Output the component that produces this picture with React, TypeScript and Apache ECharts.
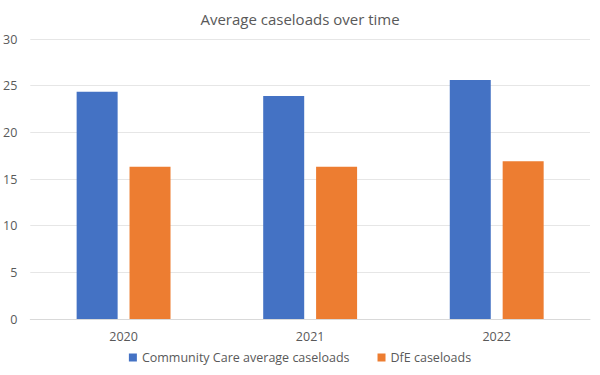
import React, { useEffect, useRef } from "react";
import * as echarts from "echarts";

const categories = ["2020", "2021", "2022"];
const communityCare = [24.35, 23.9, 25.6];
const dfe = [16.3, 16.3, 16.9];
const seriesNames = ["Community Care average caseloads", "DfE caseloads"];

export default function App() {
  const ref = useRef<HTMLDivElement>(null);
  useEffect(() => {
    const chart = echarts.init(ref.current!, null, { renderer: "svg" });
    const font = "'Open Sans', 'Liberation Sans', sans-serif";
    chart.setOption({
      animation: false,
      title: {
        text: "Average caseloads over time",
        left: "center",
        top: 6,
        textStyle: { fontFamily: font, fontSize: 15, fontWeight: "normal", color: "#595959" },
      },
      legend: {
        bottom: 6,
        left: "center",
        itemWidth: 8,
        itemHeight: 8,
        itemGap: 28,
        icon: "rect",
        textStyle: { fontFamily: font, fontSize: 12.5, color: "#595959" },
        data: seriesNames,
      },
      grid: { left: 30, right: 10, top: 39, bottom: 56 },
      xAxis: {
        type: "category",
        data: categories,
        axisLine: { lineStyle: { color: "#d9d9d9" } },
        axisTick: { show: false },
        axisLabel: { fontFamily: font, fontSize: 12.5, color: "#595959", margin: 11 },
      },
      yAxis: {
        type: "value",
        min: 0,
        max: 30,
        interval: 5,
        axisLine: { show: false },
        axisTick: { show: false },
        splitLine: { lineStyle: { color: "#e6e6e6" } },
        axisLabel: { fontFamily: font, fontSize: 12.5, color: "#595959", margin: 13 },
      },
      series: [
        {
          name: seriesNames[0],
          type: "bar",
          data: communityCare,
          barWidth: 41,
          barGap: "29%",
          itemStyle: { color: "#4472C4" },
        },
        {
          name: seriesNames[1],
          type: "bar",
          data: dfe,
          barWidth: 41,
          itemStyle: { color: "#ED7D31" },
        },
      ],
    });
    return () => chart.dispose();
  }, []);
  return <div ref={ref} style={{ width: 600, height: 375, position: "absolute", left: 0, top: 0 }} />;
}
